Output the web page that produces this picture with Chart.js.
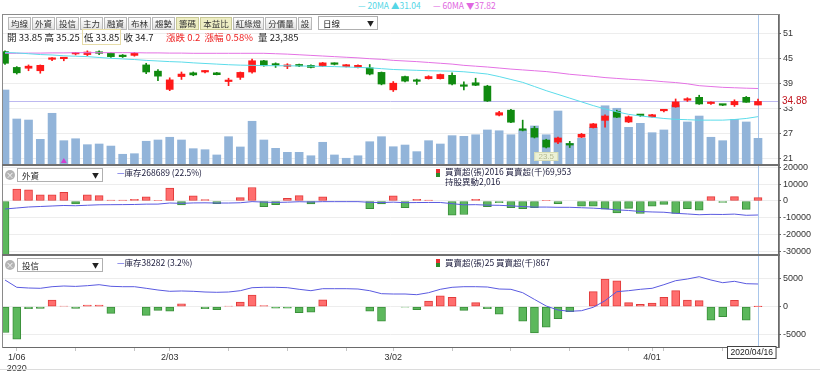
<!DOCTYPE html>
<html>
<head>
<meta charset="utf-8">
<title>日線圖</title>
<script src="https://cdn.jsdelivr.net/npm/chart.js@4.4.1/dist/chart.umd.min.js"></script>
<style>
  body { margin:0; width:820px; height:373px; position:relative; overflow:hidden; background:#fff;
         font-family:"Noto Sans CJK TC","Noto Sans",sans-serif; color:#222; }
  canvas { position:absolute; left:0; }
  .box { position:absolute; }
  #frame { left:2px; top:14px; width:776px; height:332px; border:1px solid #8a8a8a; }
  .sep { position:absolute; left:2px; width:778px; height:2px; background:#707070; }
  #bar { position:absolute; left:8px; top:17px; display:flex; gap:1px; }
  #bar span { height:11px; line-height:11px; font-size:8.5px; padding:0 2px; border:1px solid #b8b8b8;
              background:linear-gradient(#fefefe,#e2e2e2); color:#333; }
  #bar span.on { background:#eeeec4; border-color:#c9c996; }
  .sel { position:absolute; height:12px; border:1px solid #b0b0b0; background:#fff; font-size:8.5px; line-height:12px; padding-left:4px; box-sizing:content-box; }
  .sel i { position:absolute; right:3px; top:0; font-style:normal; font-size:7px; color:#222; }
  .info { position:absolute; top:30px; font-size:9.5px; white-space:nowrap; }
  .red { color:#ee2222; }
  .hl { border:1px solid #e6dca8; padding:0 1px; }
  .xc { position:absolute; width:10px; height:10px; border-radius:50%; background:#b4b4b4; color:#fff; font-size:8px; line-height:10px; text-align:center; }
  .lg { position:absolute; font-size:8.5px; line-height:10px; white-space:nowrap; color:#202040; }
  .lg b { color:#3030d8; font-weight:normal; }
  .ic { position:absolute; width:4px; height:8px; background:linear-gradient(#e83030 50%, #2a8a2a 50%); }
  .top { position:absolute; top:-1px; font-size:8.5px; white-space:nowrap; }
</style>
</head>
<body>
<div id="frame" class="box"></div>
<canvas id="c1" width="820" height="150" style="top:15px;width:820px;height:150px"></canvas>
<canvas id="c2" width="820" height="95" style="top:160px;width:820px;height:95px"></canvas>
<canvas id="c3" width="820" height="123" style="top:250px;width:820px;height:123px"></canvas>
<div class="sep" style="top:164px"></div>
<div class="sep" style="top:254px"></div>
<div class="box" style="left:0;top:369px;width:820px;height:1px;background:#dcdcdc"></div>

<div class="top" style="left:358px;color:#55d6e6">— 20MA ▲31.04</div>
<div class="top" style="left:433px;color:#e066e0">— 60MA ▼37.82</div>

<div id="bar">
  <span>均線</span><span>外資</span><span>投信</span><span>主力</span><span>融資</span><span>布林</span><span>趨勢</span>
  <span class="on">籌碼</span><span class="on">本益比</span><span>紅綠燈</span><span>分價量</span><span>設</span>
</div>
<div class="sel" style="left:318px;top:16px;width:54px">日線<i>▼</i></div>

<div class="info" style="left:7px">開 33.85 高 35.25 <span class="hl">低 33.85</span> 收 34.7</div>
<div class="info red" style="left:166px">漲跌 0.2 &nbsp;漲幅 0.58%</div>
<div class="info" style="left:258px">量 23,385</div>

<div class="xc" style="left:5px;top:170px">×</div>
<div class="sel" style="left:17px;top:168px;width:80px">外資<i>▼</i></div>
<div class="lg" style="left:117px;top:167px"><b>—</b>庫存268689 (22.5%)</div>
<div class="ic" style="left:436px;top:169px"></div>
<div class="lg" style="left:445px;top:166px">買賣超(張)2016 買賣超(千)69,953<br>持股異動2,016</div>

<div class="xc" style="left:5px;top:260px">×</div>
<div class="sel" style="left:17px;top:258px;width:80px">投信<i>▼</i></div>
<div class="lg" style="left:117px;top:257px"><b>—</b>庫存38282 (3.2%)</div>
<div class="ic" style="left:436px;top:259px"></div>
<div class="lg" style="left:445px;top:257px">買賣超(張)25 買賣超(千)867</div>

<script>
// 交易日
const dates = ['1/03','1/06','1/07','1/08','1/09','1/10','1/13','1/14','1/15','1/16',
  '1/17','1/20','1/30','1/31','2/03','2/04','2/05','2/06','2/07','2/10',
  '2/11','2/12','2/13','2/14','2/17','2/18','2/19','2/20','2/21','2/24',
  '2/25','2/26','2/27','3/02','3/03','3/04','3/05','3/06','3/09','3/10',
  '3/11','3/12','3/13','3/16','3/17','3/18','3/19','3/20','3/23','3/24',
  '3/25','3/26','3/27','3/30','3/31','4/01','4/06','4/07','4/08','4/09',
  '4/10','4/13','4/14','4/15','4/16'];

// K線
const openP = [46.7, 42.9, 42.7, 42.1, 44.85, 45.0, 46.15, 46.0, 46.6, 46.3,
  45.8, 45.8, 43.5, 42.0, 37.6, 40.7, 41.6, 41.8, 41.6, 39.5,
  40.5, 41.8, 44.5, 43.55, 43.15, 43.55, 43.4, 43.2, 43.95, 43.1,
  42.9, 42.8, 41.7, 37.5, 40.7, 39.65, 40.2, 40.2, 41.0, 38.45,
  39.2, 38.4, 31.4, 32.6, 27.85, 28.2, 25.4, 24.9, 24.3, 26.1,
  28.4, 30.15, 32.3, 29.75, 31.4, 31.0, 32.45, 33.4, 35.0, 35.7,
  34.2, 33.9, 33.9, 35.7, 33.85];
const highP = [46.9, 43.1, 43.5, 43.5, 45.3, 45.3, 46.4, 46.9, 46.9, 46.4,
  46.0, 46.5, 43.9, 42.4, 40.4, 41.8, 41.8, 42.2, 41.7, 40.3,
  41.8, 44.9, 44.6, 44.0, 43.8, 43.7, 43.5, 44.1, 44.0, 43.6,
  43.5, 43.6, 41.8, 39.5, 40.8, 40.1, 40.9, 41.3, 41.6, 39.4,
  40.3, 38.6, 32.3, 32.8, 30.2, 28.7, 25.6, 26.1, 25.1, 27.0,
  29.4, 31.5, 32.6, 31.2, 31.6, 31.6, 32.8, 35.3, 35.6, 36.2,
  34.6, 34.0, 35.1, 35.9, 35.25];
const lowP = [43.6, 41.3, 42.1, 41.5, 44.5, 44.5, 45.9, 45.7, 46.0, 45.3,
  45.3, 45.6, 41.4, 39.7, 37.3, 40.0, 40.9, 41.6, 41.1, 38.5,
  40.0, 41.5, 43.2, 42.9, 42.6, 43.1, 42.8, 43.1, 43.5, 43.0,
  42.8, 41.1, 38.7, 37.1, 39.4, 38.8, 40.1, 40.1, 38.7, 37.5,
  38.5, 34.7, 31.2, 29.6, 27.6, 25.9, 23.5, 24.5, 23.6, 26.0,
  28.3, 28.5, 30.8, 29.6, 31.1, 30.9, 32.2, 33.3, 34.7, 34.0,
  34.0, 33.7, 33.5, 34.5, 33.85];
const closeP = [43.9, 41.6, 43.2, 43.4, 44.95, 45.0, 46.2, 46.6, 46.3, 45.5,
  45.5, 46.3, 41.8, 40.8, 39.9, 41.3, 41.1, 42.1, 41.15, 39.7,
  41.7, 44.5, 43.3, 43.45, 43.25, 43.25, 42.9, 44.0, 43.65, 43.55,
  43.4, 41.3, 38.9, 39.1, 39.6, 39.55, 40.7, 41.2, 38.9, 38.35,
  38.6, 34.8, 32.0, 29.7, 27.75, 26.1, 23.7, 25.9, 24.2, 26.8,
  29.3, 31.2, 30.9, 31.0, 31.3, 31.5, 32.55, 34.6, 35.1, 34.1,
  34.3, 33.8, 34.7, 34.5, 34.7];
const volume = [65700, 40300, 39400, 22500, 45300, 21300, 23000, 17800, 18400, 16600,
  9400, 9900, 20800, 21900, 24300, 21900, 14300, 13400, 8800, 24800,
  15800, 38300, 21900, 14600, 11100, 11100, 8100, 19900, 8800, 5900,
  8100, 20400, 24800, 16000, 17500, 11700, 21300, 18400, 25700, 25100,
  26500, 30700, 30000, 26500, 30700, 34200, 26500, 47300, 19000, 23400,
  33000, 51900, 49700, 33000, 36500, 28300, 30700, 52600, 37700, 42900,
  24300, 21300, 40000, 37700, 23385];
const ma20 = [46.5, 46.4, 46.2, 46.0, 45.9, 45.7, 45.6, 45.5, 45.3, 45.1,
  44.95, 44.8, 44.6, 44.45, 44.3, 44.2, 44.0, 43.85, 43.7, 43.55,
  43.45, 43.4, 43.35, 43.3, 43.3, 43.25, 43.2, 43.15, 43.1, 43.0,
  42.9, 42.8, 42.6, 42.4, 42.3, 42.2, 42.1, 42.05, 42.0, 41.85,
  41.6, 41.3, 40.7, 40.0, 39.3, 38.3, 37.3, 36.4, 35.5, 34.6,
  33.7, 32.9, 32.2, 31.6, 31.2, 30.9, 30.6, 30.4, 30.3, 30.2,
  30.2, 30.2, 30.35, 30.6, 31.04];
const ma60 = [46.3, 46.3, 46.35, 46.35, 46.4, 46.4, 46.45, 46.45, 46.45, 46.45,
  46.45, 46.45, 46.4, 46.4, 46.35, 46.35, 46.3, 46.3, 46.3, 46.3,
  46.3, 46.3, 46.3, 46.2, 46.1, 45.95, 45.8, 45.65, 45.5, 45.35,
  45.2, 45.0, 44.85, 44.6, 44.45, 44.3, 44.1, 43.9, 43.7, 43.4,
  43.2, 43.0, 42.75, 42.5, 42.3, 42.1, 41.9, 41.6, 41.25, 41.0,
  40.75, 40.45, 40.25, 40.05, 39.9, 39.7, 39.45, 39.25, 38.95, 38.5,
  38.3, 38.1, 38.0, 37.9, 37.82];

// 外資
const foreignNet = [-34000, 7000, 6600, 3600, 3600, 5200, -1800, 3600, 3200, 600,
  600, 1000, 2400, 200, 7600, -2400, 3000, 800, -1600, 0,
  2000, 8000, -3400, -2200, 1600, 3200, -1800, 2400, 0, 0,
  0, -4600, -1800, 3000, -4000, 1000, 600, 0, -8400, -8000,
  1000, -3400, -1000, -4000, -4600, -4000, 200, -1600, 0, -3000,
  -3000, -4800, -7000, -4400, -7400, -3000, -2000, -7400, -4600, -5400,
  2600, -800, 2600, -5000, 2016];
const foreignHold = [310700, 317700, 324700, 328200, 331700, 335200, 333500, 337000, 340200, 340800,
  341400, 342400, 344800, 345000, 352600, 350200, 353200, 354000, 352400, 352400,
  354400, 362400, 359000, 356800, 358400, 361600, 359800, 362200, 362200, 362200,
  362200, 357600, 355800, 358800, 354800, 355800, 356400, 356400, 348000, 340000,
  341000, 337600, 336600, 332600, 328000, 324000, 324200, 322600, 322600, 319600,
  316600, 311800, 304800, 300400, 293000, 290000, 288000, 280600, 276000, 270600,
  273200, 272400, 275000, 266700, 268689];

// 投信
const trustNet = [-4630, -5840, -360, -300, 1200, 100, -300, 300, 300, -1200,
  0, 0, -1560, -650, -800, 500, 0, -350, -550, 100,
  850, 2100, 200, -250, -250, -1050, -1000, 1250, 0, 0,
  0, -800, -2580, 0, -50, -540, 1030, 1930, 1690, -660,
  720, -360, -1330, 0, -2580, -4700, -3670, -2170, -900, 0,
  2710, 4950, 4640, 720, 420, 660, 1690, 2890, 1200, 1090,
  -2410, -1810, 1150, -2410, 25];
const trustHold = [41080, 35970, 35480, 35270, 36390, 36880, 36600, 37090, 37790, 36670,
  36390, 36390, 35270, 34080, 33170, 33400, 33170, 32680, 32470, 32680,
  33590, 35690, 35970, 35970, 35690, 34570, 33590, 34990, 34990, 34990,
  34780, 33590, 31490, 31280, 31280, 30790, 32190, 34570, 35970, 36390,
  36390, 36180, 34780, 34570, 32190, 27500, 22880, 20080, 19170, 19590,
  21970, 26590, 32890, 33590, 34570, 35270, 37790, 40590, 41780, 43390,
  41080, 39190, 40170, 38490, 38282];

// 刻度
const priceTicks = [21, 24, 27, 30, 33, 36, 39, 42, 45, 48, 51];
const foreignTicks = [-30000, -20000, -10000, 0, 10000, 20000];
const trustTicks = [-5000, 0, 5000];
const xLabels = ['1/06', '2/03', '3/02', '4/01'];
const yearLabel = '2020';
const refPrice = 34.88;
const cursorDate = '2020/04/16';
const markIdx = [5];

Chart.defaults.font.family = '"Liberation Sans", Arial, sans-serif';
Chart.defaults.font.size = 9;
Chart.defaults.color = '#333';

const UP = '#ff1a1a', DOWN = '#108a10';
const N = dates.length;
const lastIdx = N - 1;
const candleColor = closeP.map((c, i) => c >= openP[i] ? UP : DOWN);
const pts = arr => arr.map((v, i) => ({ x: i, y: v }));

function xAxis(show) {
  return { type: 'linear', min: -0.17, max: lastIdx + 1.7, display: show, offset: false, grid: { offset: false } };
}
function rightAxis(min, max, tickVals) {
  return {
    position: 'right', min: min, max: max,
    afterBuildTicks: a => { a.ticks = tickVals.map(v => ({ value: v })); },
    afterFit: a => { a.width = 42; a.paddingTop = 0; a.paddingBottom = 0; },
    grid: { color: '#ededed', tickLength: 3, tickColor: '#666' },
    border: { color: '#6a6a6a' },
    ticks: { padding: 2, color: '#333', callback: v => String(v) }
  };
}
const baseOpts = pad => ({
  responsive: false, animation: false, events: [],
  layout: { padding: { left: 3, right: 0, top: pad, bottom: 0 } },
  plugins: { legend: { display: false }, tooltip: { enabled: false } }
});

// 十字線
const crossLine = {
  id: 'crossLine',
  beforeDatasetsDraw(chart) {
    const { ctx, chartArea: a, scales: { x } } = chart;
    const cx = Math.round(x.getPixelForValue(lastIdx)) + 0.5;
    ctx.save();
    ctx.strokeStyle = '#a9c6ea';
    ctx.lineWidth = 1;
    ctx.beginPath(); ctx.moveTo(cx, a.top); ctx.lineTo(cx, a.bottom); ctx.stroke();
    ctx.restore();
  }
};

// 價格區：參考價線、最低價、標記
const priceExtras = {
  id: 'priceExtras',
  beforeDatasetsDraw(chart) {
    const { ctx, chartArea: a, scales: { y } } = chart;
    const py = Math.round(y.getPixelForValue(refPrice)) + 0.5;
    ctx.save();
    ctx.strokeStyle = '#bdb8f0';
    ctx.beginPath(); ctx.moveTo(a.left, py); ctx.lineTo(a.right, py); ctx.stroke();
    ctx.restore();
  },
  afterDatasetsDraw(chart) {
    const { ctx, chartArea: a, scales: { x } } = chart;
    ctx.save();
    const lo = lowP.indexOf(Math.min(...lowP));
    const lx = x.getPixelForValue(lo);
    ctx.fillStyle = 'rgba(240,244,214,0.95)';
    ctx.strokeStyle = '#d8ddb6';
    ctx.fillRect(lx - 12, a.bottom - 13, 24, 9);
    ctx.strokeRect(lx - 11.5, a.bottom - 12.5, 23, 8);
    ctx.fillStyle = '#b4ba92';
    ctx.font = '8px "Liberation Sans"';
    ctx.textAlign = 'center'; ctx.textBaseline = 'middle';
    ctx.fillText(Math.min(...lowP).toFixed(1), lx, a.bottom - 8.5);
    ctx.fillStyle = '#d040d0';
    markIdx.forEach(i => {
      const mx = x.getPixelForValue(i), my = a.bottom - 4;
      ctx.beginPath(); ctx.moveTo(mx, my - 3); ctx.lineTo(mx + 3, my + 2); ctx.lineTo(mx - 3, my + 2); ctx.closePath(); ctx.fill();
    });
    ctx.restore();
  },
  afterDraw(chart) {
    const { ctx, chartArea: a, scales: { y } } = chart;
    const py = y.getPixelForValue(refPrice);
    ctx.save();
    ctx.fillStyle = '#fff';
    ctx.fillRect(a.right + 2, py - 6, 34, 12);
    ctx.fillStyle = '#c0121c';
    ctx.font = '10px "Liberation Sans"';
    ctx.textBaseline = 'middle';
    ctx.fillText(refPrice.toFixed(2), a.right + 4, py + 0.5);
    ctx.restore();
  }
};

new Chart(document.getElementById('c1'), {
  type: 'bar',
  data: {
    datasets: [
      { type: 'line', data: pts(ma20), borderColor: '#5cdcea', borderWidth: 1, pointRadius: 0, yAxisID: 'y', order: 0 },
      { type: 'line', data: pts(ma60), borderColor: '#e472e4', borderWidth: 1, pointRadius: 0, yAxisID: 'y', order: 0 },
      { data: lowP.map((l, i) => ({ x: i, y: [l, highP[i]] })), backgroundColor: candleColor,
        barThickness: 1, grouped: false, yAxisID: 'y', order: 2 },
      { data: openP.map((o, i) => ({ x: i, y: [o, closeP[i]] })), backgroundColor: candleColor,
        barThickness: 7, minBarLength: 1.5, grouped: false, yAxisID: 'y', order: 1 },
      { data: pts(volume), backgroundColor: '#92b4d9', barThickness: 8, grouped: false, yAxisID: 'yv', order: 5 }
    ]
  },
  options: Object.assign(baseOpts(0), {
    scales: {
      x: xAxis(false),
      y: rightAxis(19.39, 55.53, priceTicks),
      yv: { display: false, min: 0, max: 131400 }
    }
  }),
  plugins: [crossLine, priceExtras]
});

function netChart(id, net, hold, yMin, yMax, ticks, hMin, hMax, showX) {
  const opts = baseOpts(5);
  opts.scales = {
    x: xAxis(showX),
    y: rightAxis(yMin, yMax, ticks),
    yh: { display: false, min: hMin, max: hMax }
  };
  if (showX) {
    const labelIdx = xLabels.map(d => dates.indexOf(d));
    const weekIdx = dates.map((d, i) => {
      const [m, dd] = d.split('/').map(Number);
      return new Date(Number(yearLabel), m - 1, dd).getDay() === 1 ? i : -1;
    }).filter(i => i >= 0);
    const tickIdx = Array.from(new Set(weekIdx.concat(labelIdx))).sort((p, q) => p - q);
    Object.assign(opts.scales.x, {
      position: 'bottom',
      afterBuildTicks: a => { a.ticks = tickIdx.map(v => ({ value: v })); },
      afterFit: a => { a.height = 26; a.paddingLeft = 0; a.paddingRight = 0; },
      grid: { offset: false, drawOnChartArea: false, tickLength: 4, tickColor: '#c4c4c4' },
      border: { color: '#6a6a6a' },
      ticks: {
        autoSkip: false, maxRotation: 0, padding: 1, color: '#333', font: { size: 9, lineHeight: 1.2 },
        callback: v => {
          const k = labelIdx.indexOf(v);
          if (k < 0) return '';
          return k === 0 ? [xLabels[k], yearLabel] : xLabels[k];
        }
      }
    });
  }
  const plugins = [crossLine];
  if (showX) {
    plugins.push({
      id: 'dateBox',
      afterDraw(chart) {
        const { ctx, chartArea: a, scales: { x } } = chart;
        ctx.save();
        ctx.font = '8.5px "Liberation Sans"';
        const w = ctx.measureText(cursorDate).width + 6;
        let cx = x.getPixelForValue(lastIdx) - w / 2;
        cx = Math.min(cx, a.right - 2 - w);
        const bx = Math.round(cx) + 0.5, by = Math.round(a.bottom) - 0.5;
        ctx.fillStyle = '#fff';
        ctx.fillRect(bx, by, w, 12);
        ctx.strokeStyle = '#444';
        ctx.strokeRect(bx, by, w, 12);
        ctx.fillStyle = '#222';
        ctx.textBaseline = 'middle';
        ctx.fillText(cursorDate, bx + 3, by + 6.5);
        ctx.restore();
      }
    });
  }
  return new Chart(document.getElementById(id), {
    type: 'bar',
    data: {
      datasets: [
        { type: 'line', data: pts(hold), borderColor: '#5a5ae0', borderWidth: 1, pointRadius: 0, yAxisID: 'yh', order: 0 },
        { data: pts(net),
          backgroundColor: net.map(v => v >= 0 ? '#ff6e6e' : '#5cb85c'),
          borderColor: net.map(v => v >= 0 ? '#e23b3b' : '#3a8f3a'),
          borderWidth: 1, borderSkipped: false, barThickness: 8, grouped: false, yAxisID: 'y', order: 1 }
      ]
    },
    options: opts,
    plugins: plugins
  });
}

netChart('c2', foreignNet, foreignHold, -32030, 21350, foreignTicks, -11311, 618689, false);
netChart('c3', trustNet, trustHold, -7235, 9280, trustTicks, -5818, 58582, true);
</script>
</body>
</html>
